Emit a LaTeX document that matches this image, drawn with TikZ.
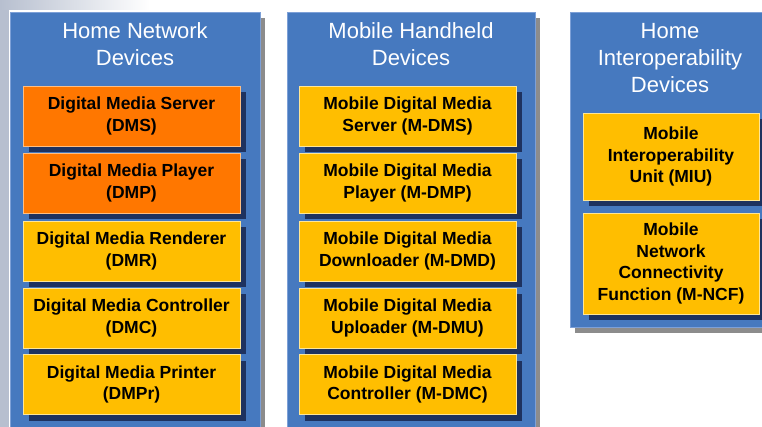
\documentclass[tikz,border=0pt]{standalone}
\usepackage{fontspec}
\setmainfont{Liberation Sans}
\usetikzlibrary{shadows}
\definecolor{panelblue}{RGB}{70,121,191}
\definecolor{paneledge}{RGB}{125,160,215}
\definecolor{panelshadow}{RGB}{140,140,140}
\definecolor{orangebox}{RGB}{255,119,0}
\definecolor{amberbox}{RGB}{255,190,0}
\definecolor{boxshadow}{RGB}{30,50,95}
\definecolor{bgstrip}{RGB}{183,191,207}
\begin{document}
\begin{tikzpicture}[x=1pt,y=-1pt,
  panel/.style={rectangle, fill=panelblue, draw=paneledge, line width=0.8pt,
    anchor=north west, inner sep=0pt,
    drop shadow={shadow xshift=5pt, shadow yshift=-6pt, fill=panelshadow, opacity=1}},
  ptitle/.style={text=white, align=center, inner sep=0pt,
    font=\fontsize{22}{27}\selectfont},
  dev/.style={rectangle, minimum width=217pt, minimum height=60pt, inner sep=0pt,
    align=center, font=\bfseries\fontsize{17.5}{21.5}\selectfont,
    line width=0.8pt,
    drop shadow={shadow xshift=6pt, shadow yshift=-6pt, fill=boxshadow, opacity=1}},
  hot/.style={dev, fill=orangebox, draw={rgb,255:red,255;green,190;blue,130}},
  warm/.style={dev, fill=amberbox, draw={rgb,255:red,255;green,230;blue,150}}]
\useasboundingbox (0,0) rectangle (762,427);
\clip (0,0) rectangle (762,427);
% slide background corner
\fill[bgstrip] (0,0) rectangle (9,427);
\shade[left color=bgstrip, right color=white] (0,0) rectangle (150,10);
% panels
\node[panel, minimum width=250pt, minimum height=440pt] (p1) at (10,12) {};
\node[panel, minimum width=248pt, minimum height=440pt] (p2) at (287,12) {};
\node[panel, minimum width=200pt, minimum height=315pt] (p3) at (570,12) {};
% titles
\node[ptitle] (t1) at (135,44) {Home Network\\Devices};
\node[ptitle] (t2) at (411,44) {Mobile Handheld\\Devices};
\node[ptitle] (t3) at (670,58) {Home\\Interoperability\\Devices};
% home network devices
\node[hot]  (dms)  at (131.5,116) {Digital Media Server\\(DMS)};
\node[hot]  (dmp)  at (131.5,183) {Digital Media Player\\(DMP)};
\node[warm] (dmr)  at (131.5,251) {Digital Media Renderer\\(DMR)};
\node[warm] (dmc)  at (131.5,318) {Digital Media Controller\\(DMC)};
\node[warm] (dmpr) at (131.5,384.5) {Digital Media Printer\\(DMPr)};
% mobile handheld devices
\node[warm] (mdms) at (407.5,116) {Mobile Digital Media\\Server (M-DMS)};
\node[warm] (mdmp) at (407.5,183) {Mobile Digital Media\\Player (M-DMP)};
\node[warm] (mdmd) at (407.5,251) {Mobile Digital Media\\Downloader (M-DMD)};
\node[warm] (mdmu) at (407.5,318) {Mobile Digital Media\\Uploader (M-DMU)};
\node[warm] (mdmc) at (407.5,384.5) {Mobile Digital Media\\Controller (M-DMC)};
% home interoperability devices
\node[warm, minimum width=176pt, minimum height=87pt] (miu) at (671,156.5)
  {Mobile\\Interoperability\\Unit (MIU)};
\node[warm, minimum width=176pt, minimum height=101pt] (mncf) at (671,263.5)
  {Mobile\\Network\\Connectivity\\Function (M-NCF)};
\end{tikzpicture}
\end{document}
